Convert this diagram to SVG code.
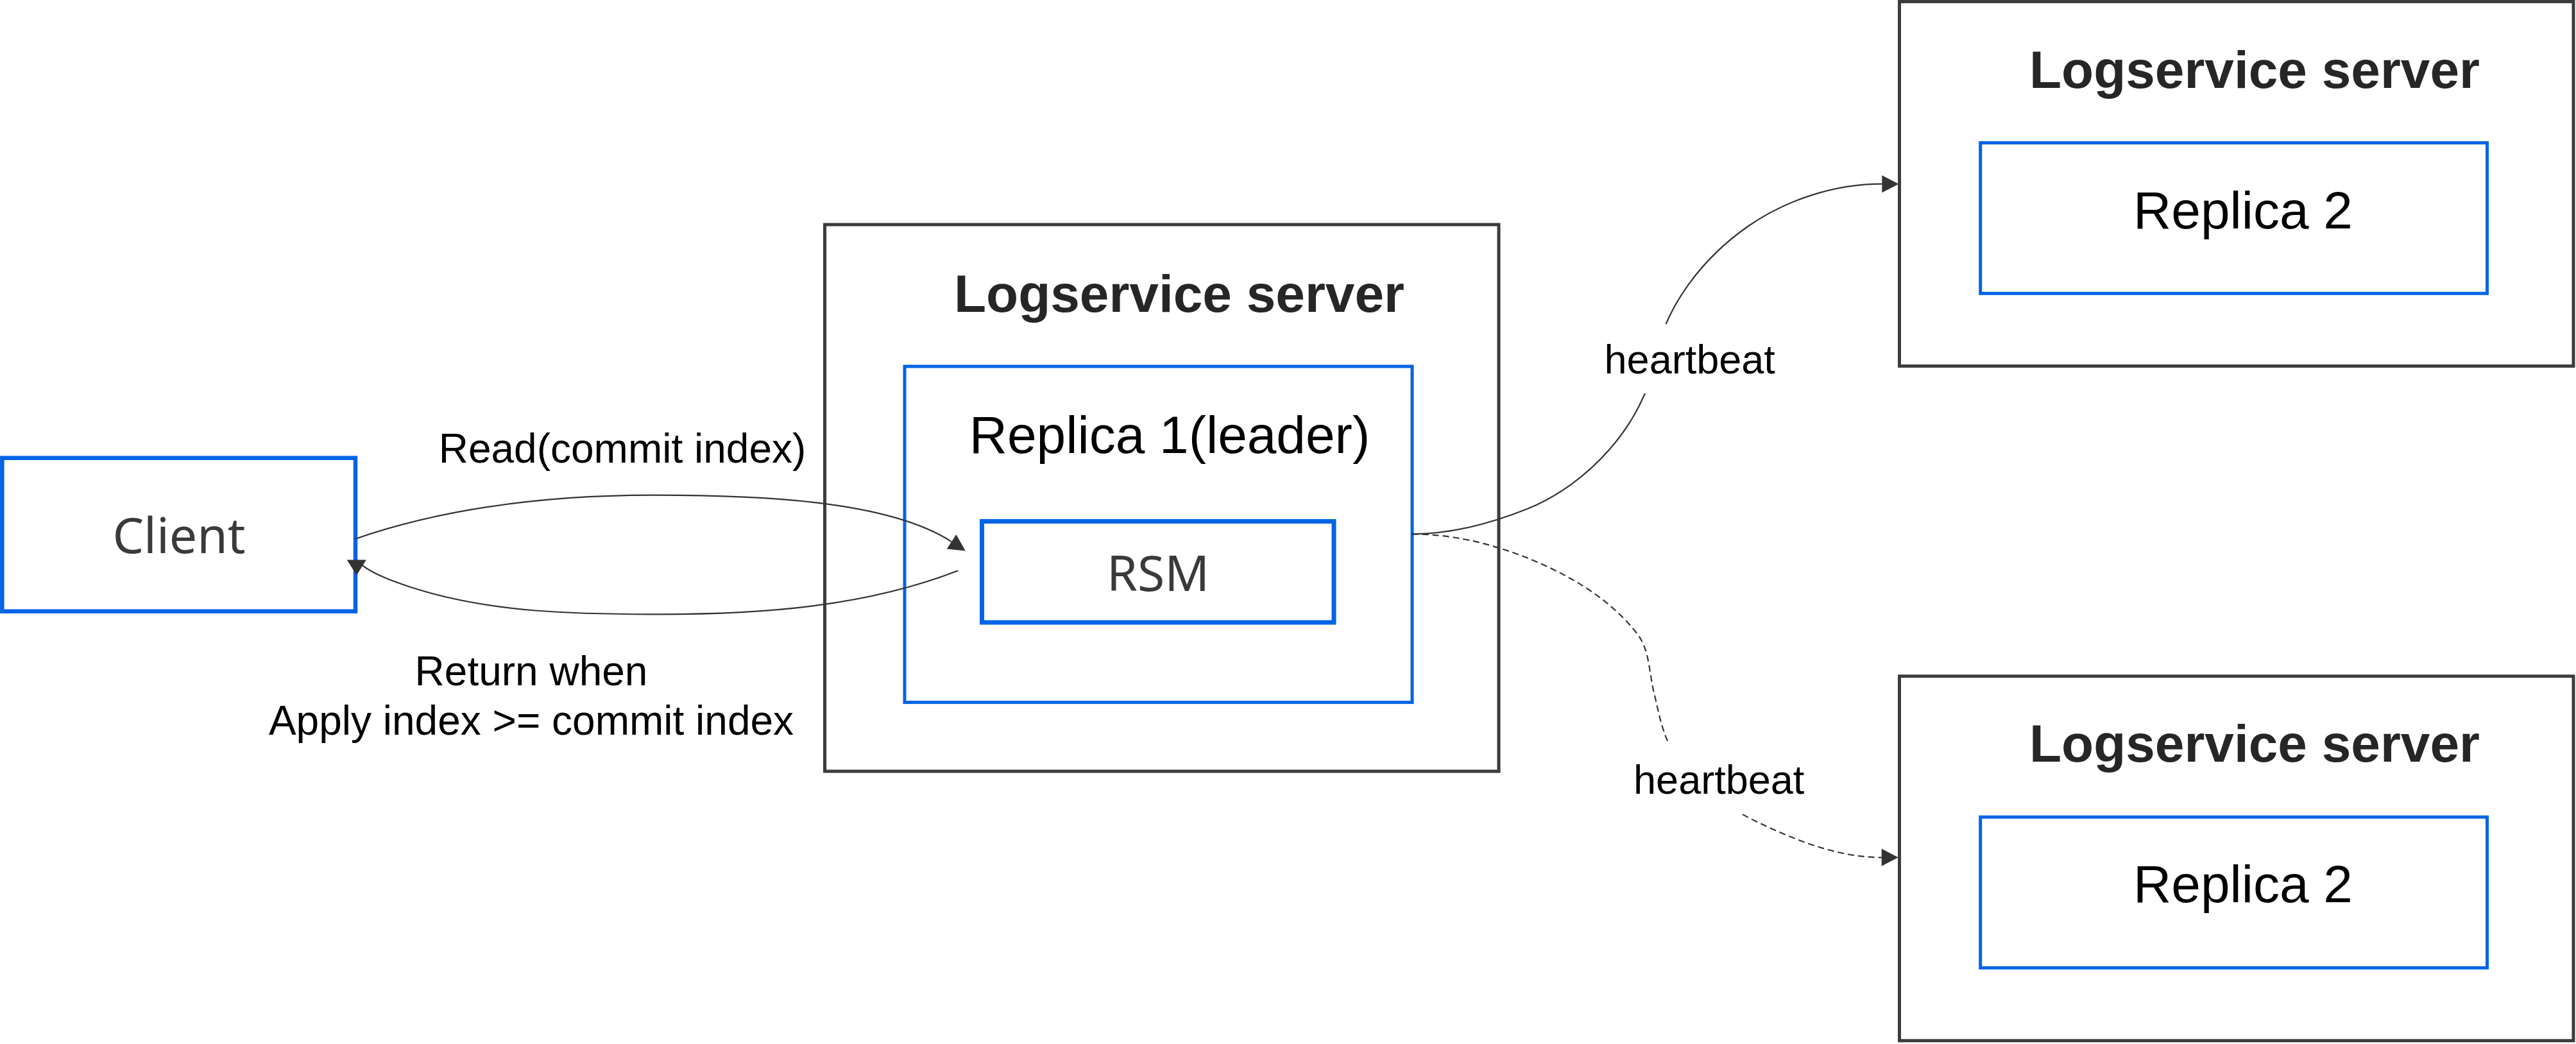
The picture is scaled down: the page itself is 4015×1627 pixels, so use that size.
<svg xmlns="http://www.w3.org/2000/svg" width="4015" height="1627" viewBox="0 0 4015 1627">
  <style>
    .server { fill: #ffffff; stroke: #3c3c3c; stroke-width: 5; }
    .blue { fill: #ffffff; stroke: #0064e6; stroke-width: 5; }
    .title { font-family: "Liberation Sans", Arial, sans-serif; font-weight: bold; font-size: 82px; fill: #262626; text-anchor: middle; }
    .replica { font-family: "Liberation Sans", Arial, sans-serif; font-size: 82px; fill: #000000; text-anchor: middle; }
    .soft { font-family: "Noto Sans", "Open Sans", sans-serif; font-size: 77px; fill: #3a3a3a; text-anchor: middle; }
    .label { font-family: "Liberation Sans", Arial, sans-serif; font-size: 64px; fill: #000000; text-anchor: middle; }
    .hb { font-family: "Liberation Sans", Arial, sans-serif; font-size: 63px; fill: #000000; text-anchor: middle; }
    .edge { fill: none; stroke: #333333; stroke-width: 2.2; }
    .dashed { stroke-dasharray: 10 6; }
    .lblbg { fill: #ffffff; stroke: none; }
  </style>
  <defs>
    <marker id="arr" markerUnits="userSpaceOnUse" orient="auto" overflow="visible" markerWidth="30" markerHeight="30" refX="0" refY="0">
      <path d="M0,-13.5 L26,0 L0,13.5 Z" fill="#333333"/>
    </marker>
    <marker id="arrDown" markerUnits="userSpaceOnUse" orient="90" overflow="visible" markerWidth="30" markerHeight="30" refX="0" refY="0">
      <path d="M0,-15 L24,0 L0,15 Z" fill="#333333"/>
    </marker>
  </defs>
  <rect x="0" y="0" width="4015" height="1627" fill="#ffffff"/>

  <g id="client">
    <rect x="3.3" y="713.7" width="550.7" height="239" class="blue" style="stroke-width:6.5"/>
    <text x="279" y="862" class="soft">Client</text>
  </g>

  <g id="server-leader">
    <rect x="1285.5" y="350" width="1050.5" height="852" class="server"/>
    <text x="1838" y="486" class="title">Logservice server</text>
  </g>
  <g id="replica-1">
    <rect x="1410" y="571" width="791" height="523.6" class="blue"/>
    <text x="1823" y="706" class="replica">Replica 1(leader)</text>
  </g>
  <g id="rsm">
    <rect x="1530.5" y="812.5" width="548.5" height="157.5" class="blue" style="stroke-width:7"/>
    <text x="1805" y="921" class="soft">RSM</text>
  </g>

  <g id="server-top">
    <rect x="2960.5" y="2.5" width="1050.5" height="568" class="server"/>
    <text x="3514" y="136.6" class="title">Logservice server</text>
  </g>
  <g id="replica-2-top">
    <rect x="3086.7" y="222.6" width="789.8" height="234.7" class="blue"/>
    <text x="3496" y="356" class="replica">Replica 2</text>
  </g>

  <g id="server-bottom">
    <rect x="2960.5" y="1053.8" width="1050.5" height="568" class="server"/>
    <text x="3514" y="1186.6" class="title">Logservice server</text>
  </g>
  <g id="replica-2-bottom">
    <rect x="3086.7" y="1273.3" width="789.8" height="235" class="blue"/>
    <text x="3496" y="1406" class="replica">Replica 2</text>
  </g>

  <g id="connectors">
    <path id="edge-read" class="edge" marker-end="url(#arr)"
      d="M553.3,840 C701.7,788.7 863,771.7 1020,771.7 C1176.2,771.7 1382.4,778.7 1483,844.2"/>
    <text x="970" y="721" class="label">Read(commit index)</text>

    <path id="edge-return" class="edge" marker-end="url(#arrDown)"
      d="M1493.3,889.3 C1347.2,946.2 1184.8,957.3 1028,957.3 C898,957.3 763.5,955.3 640,915 C613.4,906.3 572,892 555.8,872.5"/>
    <text x="828" y="1068" class="label">Return when</text>
    <text x="828" y="1145" class="label">Apply index &gt;= commit index</text>

    <path id="edge-heartbeat-1" class="edge" marker-end="url(#arr)"
      d="M2200.7,832.3 C2261.9,832.3 2323.2,816 2380,793.3 C2475.2,755.2 2561.8,660.5 2580,559.5 C2594.9,476.8 2655.2,401.1 2724,353 C2784,311.1 2860.1,286.7 2933.3,286.7"/>
    <rect class="lblbg" x="2495" y="505" width="277" height="108"/>
    <text x="2633.7" y="581.7" class="hb">heartbeat</text>

    <path id="edge-heartbeat-2" class="edge dashed" marker-end="url(#arr)"
      d="M2200.7,832.3 C2261.7,832.3 2323.4,846.7 2380,869.3 C2444.7,895.2 2509.5,932.9 2552,988 C2571.5,1013.2 2570.2,1049.1 2578,1080 C2584.5,1105.8 2588.7,1132.6 2600,1156.7 C2626.3,1212.6 2682.3,1253.7 2738,1280.5 C2798.8,1309.7 2865.2,1336.3 2932.7,1336.3"/>
    <rect class="lblbg" x="2540" y="1160" width="278" height="108"/>
    <text x="2679.2" y="1236.7" class="hb">heartbeat</text>
  </g>
</svg>
